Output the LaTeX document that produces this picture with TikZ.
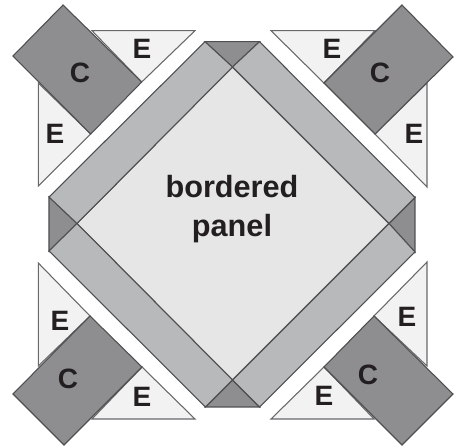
\documentclass[tikz,border=0pt]{standalone}
\usepackage{fontspec}
\setmainfont{Liberation Sans}
\definecolor{edgeg}{HTML}{4F4F51}
\definecolor{fieldg}{HTML}{E6E6E7}
\definecolor{bandg}{HTML}{B7B9BB}
\definecolor{darkg}{HTML}{8E8E90}
\definecolor{lightg}{HTML}{F2F2F2}
\definecolor{textg}{HTML}{231F20}
\tikzset{
  shapeline/.style={draw=edgeg,line width=0.8pt,line join=miter},
  field/.style={shapeline,fill=fieldg},
  band/.style={shapeline,fill=bandg},
  cornerpc/.style={shapeline,fill=darkg},
  piecee/.style={draw=edgeg!85,line width=0.8pt,fill=lightg},
  piecec/.style={shapeline,fill=darkg},
  lbl/.style={text=textg,font=\fontsize{21}{21}\selectfont\bfseries,inner sep=0pt},
  title/.style={text=textg,font=\fontsize{23}{29}\selectfont\bfseries,inner sep=0pt,align=center},
}
\begin{document}
\begin{tikzpicture}[x=0.75pt,y=-0.75pt]
\useasboundingbox (0,0) rectangle (462,446);
% panel
\draw[field] (232.5,67) -- (389,223.5) -- (232.5,380) -- (77,223.5) -- cycle;
\draw[cornerpc] (205,41.7) -- (259.5,41.7) -- (232.5,67) -- cycle;
\draw[cornerpc] (415,197.5) -- (415,252) -- (389,223.5) -- cycle;
\draw[cornerpc] (259.5,407) -- (205.5,407) -- (232.5,380) -- cycle;
\draw[cornerpc] (49,251) -- (49,197) -- (77,223.5) -- cycle;
\draw[band] (205,41.7) -- (232.5,67) -- (77,223.5) -- (49,197) -- cycle;
\draw[band] (259.5,41.7) -- (415,197.5) -- (389,223.5) -- (232.5,67) -- cycle;
\draw[band] (415,252) -- (259.5,407) -- (232.5,380) -- (389,223.5) -- cycle;
\draw[band] (205.5,407) -- (49,251) -- (77,223.5) -- (232.5,380) -- cycle;
% top left
\draw[piecee] (92,30.7) -- (195,30.7) -- (141.7,82) -- cycle;
\draw[piecee] (38.3,83) -- (38.3,186) -- (90.7,134) -- cycle;
\draw[piecec] (63,5) -- (141.7,82) -- (90.7,134) -- (13,56) -- cycle;
% top right
\draw[piecee] (271,30.7) -- (375,30.7) -- (324,83) -- cycle;
\draw[piecee] (427,83) -- (427,187) -- (375,134) -- cycle;
\draw[piecec] (402,5) -- (453,57) -- (375,134) -- (324,83) -- cycle;
% bottom right
\draw[piecee] (427,262) -- (427,366) -- (374,316) -- cycle;
\draw[piecee] (271,419) -- (374,419) -- (324,367) -- cycle;
\draw[piecec] (374,316) -- (453,394) -- (402,445) -- (324,367) -- cycle;
% bottom left
\draw[piecee] (38.3,263) -- (38.3,366) -- (90,316) -- cycle;
\draw[piecee] (195,419) -- (92,419) -- (142,367) -- cycle;
\draw[piecec] (90,316) -- (142,367) -- (64,445) -- (13,394) -- cycle;
% labels
\node[lbl] (e1) at (142,49) {E};
\node[lbl] (e2) at (55,134) {E};
\node[lbl] (c1) at (80,73) {C};
\node[lbl] (e3) at (332,49) {E};
\node[lbl] (e4) at (414,134) {E};
\node[lbl] (c2) at (380,73) {C};
\node[lbl] (e5) at (407,317) {E};
\node[lbl] (e6) at (324,396) {E};
\node[lbl] (c3) at (368,375) {C};
\node[lbl] (e7) at (60,321) {E};
\node[lbl] (e8) at (142,397) {E};
\node[lbl] (c4) at (68,379) {C};
\node[title] (panel) at (232,209) {bordered\\panel};
\end{tikzpicture}
\end{document}
